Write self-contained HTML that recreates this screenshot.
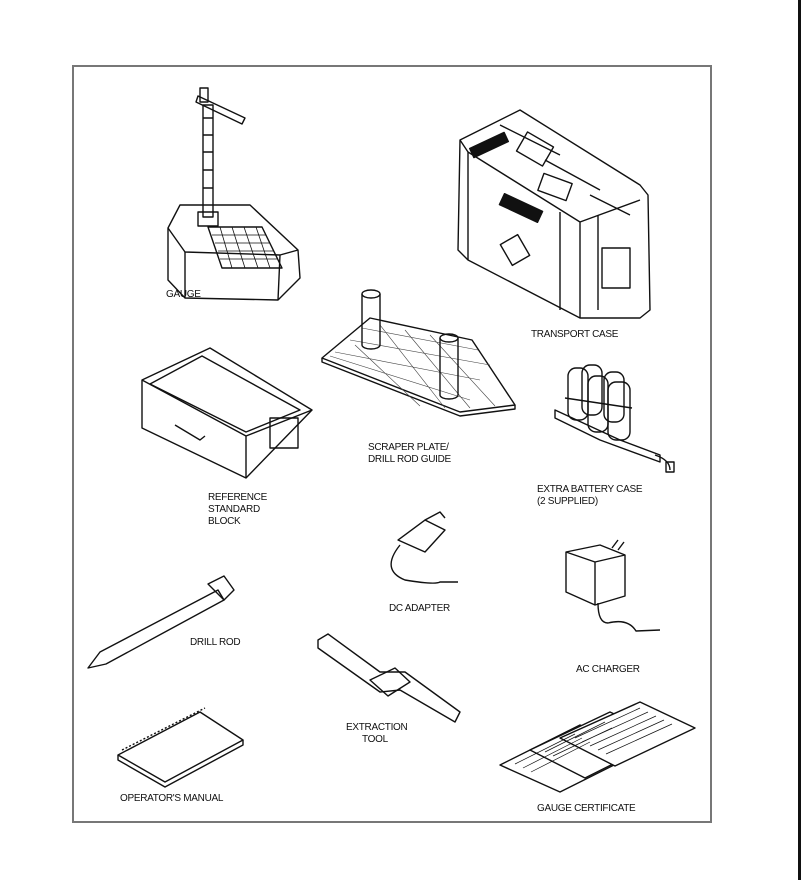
<!DOCTYPE html>
<html><head><meta charset="utf-8"><style>
html,body{margin:0;padding:0;background:#fff;width:801px;height:880px;overflow:hidden}
svg{display:block}
text{font-family:"Liberation Sans",sans-serif;font-size:10px;fill:#111;letter-spacing:-0.3px}
</style></head><body>
<svg width="801" height="880" viewBox="0 0 801 880" xmlns="http://www.w3.org/2000/svg">
<rect x="798" y="0" width="3" height="880" fill="#111"/>
<rect x="73" y="66" width="638" height="756" fill="none" stroke="#777" stroke-width="2"/>
<g fill="none" stroke="#111" stroke-width="1.4" stroke-linejoin="round">
<!-- GAUGE -->
<path d="M168 228 L180 205 L250 205 L298 250 L300 278 L278 300 L185 298 L168 280 Z"/>
<path d="M168 228 L185 252 L280 255 L298 250"/>
<path d="M185 252 L185 298 M280 255 L278 300"/>
<path d="M208 227 L262 227 L282 268 L222 268 Z"/>
<g stroke-width="0.8"><path d="M212 235 L266 235 M215 243 L270 243 M218 251 L274 251 M220 259 L278 259 M220 227 L232 268 M232 227 L245 268 M244 227 L258 268 M256 227 L270 268"/></g>
<rect x="203" y="105" width="10" height="112"/>
<path d="M203 118 h10 M203 135 h10 M203 152 h10 M203 170 h10 M203 188 h10"/>
<path d="M198 96 L245 118 L242 124 L196 102 Z"/>
<rect x="200" y="88" width="8" height="14"/>
<rect x="198" y="212" width="20" height="14"/>
<!-- TRANSPORT CASE -->
<path d="M460 140 L520 110 L640 185 L648 195 L650 310 L640 318 L580 318 L468 260 L458 250 Z"/>
<path d="M460 140 L468 152 L580 222 L640 200 M580 222 L580 318 M468 152 L468 260"/>
<path d="M560 212 L560 310 M598 215 L598 310"/>
<rect x="520" y="138" width="30" height="22" transform="rotate(30 535 149)"/>
<path d="M500 125 L560 155 M545 160 L600 190 M590 195 L630 215"/>
<rect x="540" y="178" width="30" height="18" transform="rotate(20 555 187)"/>
<rect x="602" y="248" width="28" height="40"/>
<rect x="505" y="238" width="20" height="24" transform="rotate(-30 515 250)"/>
<rect x="470" y="140" width="38" height="10" fill="#111" transform="rotate(-25 489 145)"/>
<rect x="500" y="202" width="42" height="12" fill="#111" transform="rotate(25 521 208)"/>
<!-- SCRAPER PLATE -->
<path d="M322 358 L370 318 L472 340 L515 405 L460 412 Z"/>
<path d="M322 358 L322 362 L460 416 L515 409 L515 405"/>
<g stroke-width="0.6" stroke="#444"><path d="M335 352 L480 380 M350 340 L490 365 M362 328 L478 350 M330 356 L470 400 M380 325 L445 408 M405 330 L470 408 M430 335 L495 406 M355 345 L420 406"/></g>
<path d="M362 294 L362 345 A9 4 0 0 0 380 345 L380 294"/><ellipse cx="371" cy="294" rx="9" ry="4"/>
<path d="M440 338 L440 395 A9 4 0 0 0 458 395 L458 338"/><ellipse cx="449" cy="338" rx="9" ry="4"/>
<!-- REFERENCE BLOCK -->
<path d="M142 380 L210 348 L312 410 L246 478 L142 428 Z"/>
<path d="M142 380 L246 436 L312 410 M246 436 L246 478"/>
<path d="M150 384 L202 356 L300 410 L246 432 Z"/>
<path d="M175 425 L200 440 L205 436"/>
<rect x="270" y="418" width="28" height="30"/>
<!-- BATTERY -->
<path d="M555 410 L620 440 L660 455 L660 462 L600 440 L555 418 Z"/>
<rect x="568" y="368" width="20" height="52" rx="8"/>
<rect x="588" y="376" width="20" height="56" rx="8"/>
<rect x="608" y="382" width="22" height="58" rx="8"/>
<rect x="582" y="365" width="20" height="50" rx="8"/>
<rect x="604" y="372" width="20" height="50" rx="8"/>
<path d="M565 398 L632 408 M655 455 q15 5 15 15"/><rect x="666" y="462" width="8" height="10"/>
<!-- DC ADAPTER -->
<path d="M398 540 L425 520 L445 530 L425 552 Z"/><path d="M425 520 L440 512 L445 518"/>
<path d="M400 545 q-20 25 5 35 q30 5 35 2 L458 582"/>
<!-- AC CHARGER -->
<path d="M566 552 L600 545 L625 555 L625 596 L595 605 L566 592 Z"/>
<path d="M566 552 L595 562 L625 555 M595 562 L595 605"/>
<path d="M598 603 q0 20 10 20 q20 -5 28 8 L660 630"/>
<path d="M612 548 L618 540 M618 550 L624 542"/>
<!-- DRILL ROD -->
<path d="M88 668 L100 652 L218 590 L224 600 L106 664 Z"/>
<path d="M208 584 L224 576 L234 590 L224 600 Z"/>
<!-- EXTRACTION TOOL -->
<path d="M318 640 L328 634 L380 672 L405 672 L460 712 L455 722 L400 690 L380 692 L318 648 Z"/>
<path d="M370 680 L395 668 L410 682 L388 696 Z"/>
<!-- MANUAL -->
<path d="M118 755 L200 712 L243 740 L165 782 Z"/>
<path d="M118 755 L118 760 L165 787 L243 745 L243 740"/>
<path d="M122 750 L205 708" stroke-dasharray="2 2"/>
<!-- CERTIFICATES -->
<path d="M500 765 L580 725 L640 752 L560 792 Z" fill="#fff"/>
<path d="M530 750 L610 712 L665 738 L585 778 Z" fill="#fff"/>
<path d="M560 738 L640 702 L695 728 L615 766 Z" fill="#fff"/>
<g stroke-width="0.7"><path d="M575 738 L640 708 M582 742 L648 712 M590 746 L656 716 M598 750 L664 720 M606 754 L672 724 M545 752 L605 722 M553 756 L612 728 M515 764 L575 734 M523 768 L582 738 M531 772 L590 742"/></g>
</g>
<text x="166" y="297">GAUGE</text>
<text x="531" y="337">TRANSPORT CASE</text>
<text x="368" y="450">SCRAPER PLATE/</text>
<text x="368" y="462">DRILL ROD GUIDE</text>
<text x="208" y="500">REFERENCE</text>
<text x="208" y="512">STANDARD</text>
<text x="208" y="524">BLOCK</text>
<text x="537" y="492">EXTRA BATTERY CASE</text>
<text x="537" y="504">(2 SUPPLIED)</text>
<text x="389" y="611">DC ADAPTER</text>
<text x="190" y="645">DRILL ROD</text>
<text x="576" y="672">AC CHARGER</text>
<text x="346" y="730">EXTRACTION</text>
<text x="362" y="742">TOOL</text>
<text x="120" y="801">OPERATOR'S MANUAL</text>
<text x="537" y="811">GAUGE CERTIFICATE</text>
</svg>
</body></html>
